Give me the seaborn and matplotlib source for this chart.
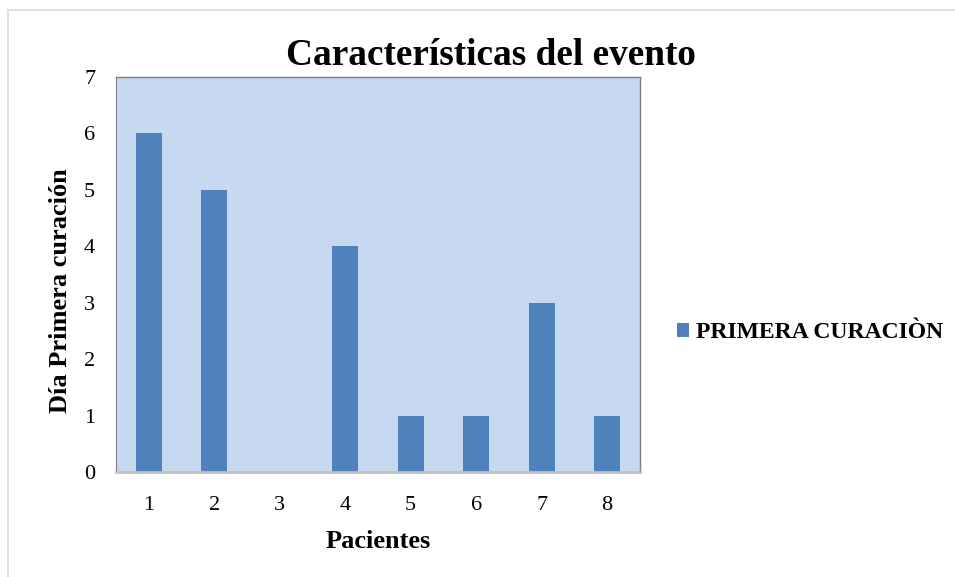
import matplotlib
matplotlib.use("Agg")
import matplotlib.pyplot as plt
import seaborn as sns
import pandas as pd
from matplotlib.patches import Rectangle

# datos del gráfico
pacientes = ["1", "2", "3", "4", "5", "6", "7", "8"]
dia_primera_curacion = [6, 5, 0, 4, 1, 1, 3, 1]
serie = "PRIMERA CURACIÒN"

df = pd.DataFrame({"Pacientes": pacientes, "Dia": dia_primera_curacion, "Serie": serie})

sns.set_style("white")
plt.rcParams["font.family"] = ["Liberation Serif", "DejaVu Serif"]

fig = plt.figure(figsize=(9.55, 5.77), dpi=100)
ax = fig.add_axes([0.1215, 0.182, 0.5485, 0.6846])

sns.barplot(data=df, x="Pacientes", y="Dia", hue="Serie", palette=["#4F81BD"],
            width=0.4, saturation=1, edgecolor="none", linewidth=0, ax=ax)

ax.set_facecolor("#C6D9F1")
ax.set_ylim(0, 7)
ax.set_xlim(-0.5, 7.5)
ax.set_yticks(range(0, 8))
ax.tick_params(axis="both", labelsize=16, length=0, colors="black")
ax.tick_params(axis="x", pad=17)
ax.tick_params(axis="y", pad=15)
for s in ["top", "right"]:
    ax.spines[s].set_color("#7F7F7F")
    ax.spines[s].set_linewidth(1.0)
ax.spines["left"].set_color("#7F7F7F")
ax.spines["bottom"].set_color("#BFBFBF")
ax.spines["bottom"].set_linewidth(2)

ax.set_xlabel("Pacientes", fontsize=19, fontweight="bold", labelpad=11, color="black")
ax.set_ylabel("Día Primera curación", fontsize=19, fontweight="bold", color="black")
ax.yaxis.set_label_coords(-0.084, 0.46)

fig.suptitle("Características del evento", fontsize=26.8, fontweight="bold",
             x=0.514, y=0.903, va="center", color="black")

leg = ax.legend(loc="center left", bbox_to_anchor=(1.03, 0.352), frameon=False,
                prop={"size": 17, "weight": "bold"}, handlelength=0.5,
                handleheight=0.5, handletextpad=0.3)
for t in leg.get_texts():
    t.set_color("black")

fig.patches.append(Rectangle((0.008, -0.01), 1.0, 0.993, transform=fig.transFigure,
                             fill=False, edgecolor="#D9D9D9", linewidth=1.2))

fig.savefig("out.png", dpi=100)
